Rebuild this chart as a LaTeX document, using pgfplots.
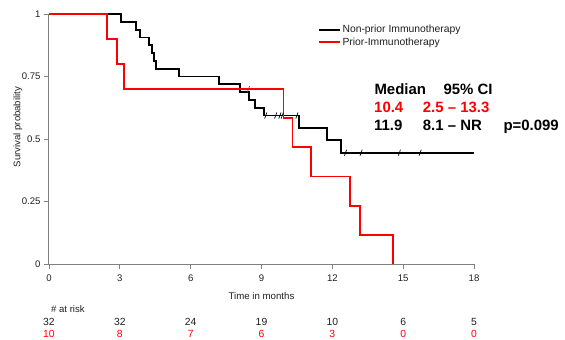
\documentclass[border=0pt]{standalone}
\usepackage{pgfplots}
\pgfplotsset{compat=1.18}
\usepackage{fontspec}
\setmainfont{Liberation Sans}
\definecolor{axgray}{RGB}{128,128,128}
\definecolor{kmred}{RGB}{255,0,0}
\definecolor{txt}{RGB}{30,30,30}
\begin{document}
\begin{tikzpicture}
\path[use as bounding box] (-49bp,-76bp) rectangle (516bp,264bp);
\begin{axis}[
  scale only axis, width=425bp, height=250bp,
  xmin=0, xmax=18, ymin=0, ymax=1,
  axis x line*=bottom, axis y line*=left,
  axis line style={axgray, line width=1bp},
  xtick={0,3,6,9,12,15,18}, xticklabels={0,3,6,9,12,15,18},
  ytick={0,0.25,0.5,0.75,1}, yticklabels={0,0.25,0.5,0.75,1},
  tick align=outside, major tick length=5bp,
  tick style={axgray, line width=0.9bp},
  ticklabel style={font=\fontsize{9.6}{11}\selectfont, text=txt},
  xticklabel style={yshift=-2bp},
  /pgf/number format/assume math mode=true,
  clip=false,
  legend cell align=left,
  legend style={draw=none, fill=none, at={(rel axis cs:0.633,0.962)}, anchor=north west,
    font=\fontsize{10.4}{12}\selectfont, inner sep=0pt, row sep=0.6bp,
    nodes={inner sep=1.5bp, text=txt}},
  legend image code/.code={\draw[#1] (0bp,0bp) -- (21bp,0bp);},
]
% Non-prior immunotherapy (n=32)
\addplot[const plot, black, line width=1.8bp] coordinates {
 (0,1) (3.04,0.96875) (3.69,0.9375) (3.86,0.90625) (4.24,0.875) (4.35,0.84375)
 (4.45,0.8125) (4.53,0.78125) (5.52,0.75) (7.2,0.71875) (8.09,0.6875)
 (8.47,0.65625) (8.73,0.625) (9.1,0.59375) (10.58,0.5443) (11.76,0.4948)
 (12.38,0.4453) (18,0.4453)};
\addlegendentry{Non-prior Immunotherapy}
% Prior immunotherapy (n=10)
\addplot[const plot, kmred, line width=1.8bp] coordinates {
 (0,1) (2.44,0.9) (2.87,0.8) (3.19,0.7) (9.93,0.5833) (10.31,0.4667)
 (11.09,0.35) (12.75,0.2333) (13.18,0.1167) (14.56,0)};
\addlegendentry{Prior-Immunotherapy}
% censoring marks
\addplot[only marks, mark=|, mark size=3.2bp, black, mark options={line width=0.7bp, rotate=-20}, forget plot] coordinates {
 (9.18,0.59375) (9.6,0.59375) (9.78,0.59375) (9.88,0.59375) (10.5,0.59375)
 (12.56,0.4453) (13.22,0.4453) (14.84,0.4453) (15.72,0.4453)};
\addplot[only marks, mark=|, mark size=3.2bp, kmred, mark options={line width=0.7bp, rotate=-20}, forget plot] coordinates {
 (8.45,0.7)};
\end{axis}
% axis labels
\node[rotate=90, font=\fontsize{9.6}{11}\selectfont, text=txt] at (-31bp,137bp) {Survival probability};
\node[font=\fontsize{9.7}{11}\selectfont, text=txt] at (212.5bp,-31.7bp) {Time in months};
% median annotation
\begin{scope}[every node/.style={anchor=base west, font=\fontsize{15}{18}\selectfont\bfseries, inner sep=0pt}]
\node[text=black] at (325.3bp,169bp) {Median};
\node[text=black] at (394.3bp,169bp) {95\% CI};
\node[text=kmred] at (325bp,151bp) {10.4};
\node[text=kmred] at (373.7bp,151bp) {2.5 – 13.3};
\node[text=black] at (325bp,133bp) {11.9};
\node[text=black] at (373.7bp,133bp) {8.1 – NR};
\node[text=black] at (454.3bp,133bp) {p=0.099};
\end{scope}
% risk table
\node[anchor=west, font=\fontsize{9.6}{11}\selectfont, text=txt, inner sep=0pt] at (2bp,-45.3bp) {\# at risk};
\foreach \x/\a/\b in {0/32/10, 1/32/8, 2/24/7, 3/19/6, 4/10/3, 5/6/0, 6/5/0} {
  \node[font=\fontsize{10.4}{12}\selectfont, text=txt] at ({\x*70.8333bp},-57.7bp) {\a};
  \node[font=\fontsize{10.4}{12}\selectfont, text=kmred] at ({\x*70.8333bp},-70bp) {\b};
}
\end{tikzpicture}
\end{document}
